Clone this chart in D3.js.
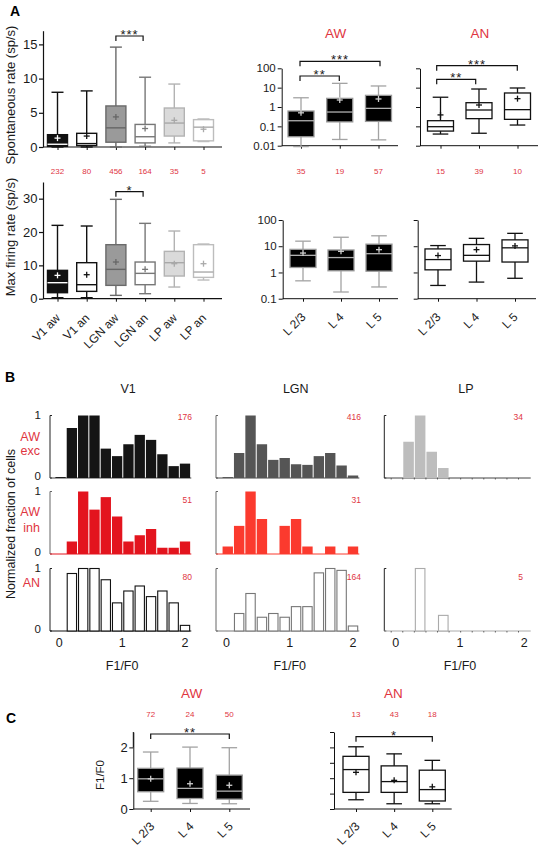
<!DOCTYPE html>
<html><head><meta charset="utf-8">
<script src="https://cdn.jsdelivr.net/npm/d3@7"></script>
<style>body{margin:0;background:#fff}svg{display:block}</style>
</head><body><svg id="c" width="538" height="852"></svg>
<script>
// ================= DATA =================
const regionCats = ["V1 aw","V1 an","LGN aw","LGN an","LP aw","LP an"];
const regionN = [232,80,456,164,35,5];
// box stats: [whiskerLow, q1, median, q3, whiskerHigh, mean]
const spontStats = [
  [0,0.1,0.4,1.8,8.0,1.3],
  [0,0.2,0.5,2.0,8.2,1.6],
  [0,0.7,2.8,6.0,14.6,4.4],
  [0.1,0.6,1.5,3.3,10.2,2.7],
  [0.6,1.6,3.5,5.7,9.2,3.9],
  [0.8,0.9,2.9,4.0,4.1,2.6]];
const maxRateStats = [
  [0.3,1.8,4.8,8.5,22,7.0],
  [0.3,2.2,4.2,10.8,21.8,7.2],
  [1.0,4.0,8.8,16.2,29.8,11.0],
  [1.5,4.2,7.6,11.0,22.6,8.8],
  [3.5,6.8,10.8,14.2,20.3,10.5],
  [5.6,6.4,8.0,16.2,16.4,10.5]];
const spontTicks = [0,5,10,15];
const maxTicks = [0,10,20,30];

const layerCats = ["L 2/3","L 4","L 5"];
const awLayerN = [35,19,57];
const anLayerN = [15,39,10];
const awSpontLayer = [[0.009,0.029,0.195,0.62,3.0,0.5],[0.021,0.17,0.55,2.8,16.7,2.3],[0.02,0.18,0.85,4.0,12.2,2.6]];
const anSpontLayer = [[0.04,0.057,0.096,0.196,3.2,0.39],[0.044,0.25,0.70,1.67,8.5,1.27],[0.117,0.23,0.73,5.3,9.6,2.7]];
const awMaxLayer = [[0.48,1.55,4.5,7.6,15.6,5.5],[0.18,1.16,3.7,7.2,22,6.4],[0.28,1.12,5.2,12,25,7.4]];
const anMaxLayer = [[0.32,1.26,3.1,7.9,10.6,4.4],[0.43,2.7,4.5,11.6,20,7.4],[0.6,2.5,8.7,17.5,31,10.3]];
const logTicksTop = [0.01,0.1,1,10,100];
const logTicksBottom = [0.1,1,10,100];

// Histograms of F1/F0 (normalized fraction of cells)
const binStarts = [-0.07,0.11,0.29,0.47,0.65,0.83,1.01,1.19,1.37,1.55,1.73,1.91];
const binWidth = 0.18;
const histColumns = ["V1","LGN","LP"];
const v1Exc  = [0.015,0.80,1.0,1.0,0.47,0.35,0.54,0.69,0.61,0.38,0.19,0.23];
const v1Inh  = [0,0.2,1.0,0.71,0.91,0.6,0.2,0.3,0.4,0.1,0.1,0.2];
const v1An   = [0,0.92,1.0,1.0,0.82,0.45,0.64,0.72,0.55,0.64,0.45,0.09];
const lgnExc = [0.015,0.4,1.0,0.54,0.29,0.32,0.22,0.21,0.35,0.4,0.2,0.04];
const lgnInh = [0.12,0.45,1.0,0.56,0,0.45,0.56,0.12,0,0.12,0,0.12];
const lgnAn  = [0,0.28,0.6,0.22,0.28,0.22,0.39,0.39,0.93,1.0,0.97,0.08];
const lpExc  = [0,0.58,1.0,0.42,0.16,0,0,0,0,0,0,0];
const lpAn   = [0,0,1.0,0,0.25,0,0,0,0,0,0,0];
const histN = { V1: [176,51,80], LGN: [416,31,164], LP: [34,null,5] };
const histTicks = [0,1,2];
const histYTicks = [0,1];

// F1/F0 by layer
const awF1Layer = [[0.25,0.56,0.98,1.32,1.85,0.98],[0.18,0.34,0.67,1.33,2.01,0.82],[0.17,0.32,0.58,1.10,1.99,0.77]];
const anF1Layer = [[0.30,0.54,1.28,1.71,2.02,1.19],[0.17,0.54,0.89,1.40,1.79,0.93],[0.17,0.26,0.63,1.26,1.58,0.72]];
const awF1N = [72,24,50];
const anF1N = [13,43,18];
const f1Ticks = [0,1,2];
const f1MinorTicks = [0,0.5,1,1.5,2,2.5];

// ================= DRAWING =================
const FONT = '"Liberation Sans", Arial, Helvetica, sans-serif';
const RED = "#e0353f";
const svg = d3.select("#c").attr("font-family", FONT);

function txt(x, y, s, o = {}) {
  const t = svg.append("text").attr("x", x).attr("y", y).text(s)
    .attr("font-size", o.fs || 11).attr("fill", o.fill || "#1a1a1a")
    .attr("text-anchor", o.anchor || "middle");
  if (o.weight) t.attr("font-weight", o.weight);
  if (o.rot) t.attr("transform", `rotate(${o.rot},${x},${y})`);
  if (o.ls) t.attr("letter-spacing", o.ls);
  return t;
}
function line(x1, y1, x2, y2, c = "#111", w = 1.2) {
  svg.append("line").attr("x1", x1).attr("y1", y1).attr("x2", x2).attr("y2", y2)
    .attr("stroke", c).attr("stroke-width", w);
}
function yAxis(x, scale, ticks, fmt, opts = {}) {
  const g = svg.append("g").attr("transform", `translate(${x},0)`)
    .call(d3.axisLeft(scale).tickValues(ticks).tickSize(opts.ts || 4).tickSizeOuter(0)
      .tickPadding(opts.pad !== undefined ? opts.pad : 2).tickFormat(fmt || (() => "")));
  g.selectAll("path,line").attr("stroke", "#111").attr("stroke-width", opts.sw || 1.2);
  g.selectAll("text").attr("font-size", opts.fs || 13).attr("fill", "#1a1a1a").attr("font-family", FONT);
  return g;
}
function xAxis(y, scale, x1, x2, labels, opts = {}) {
  line(x1, y, x2, y, "#111", opts.sw || 1.2);
  const g = svg.append("g").attr("transform", `translate(0,${y})`)
    .call(d3.axisBottom(scale).tickSize(3).tickSizeOuter(0));
  g.select(".domain").remove();
  g.selectAll("line").attr("stroke", "#111").attr("stroke-width", 1);
  if (labels) {
    g.selectAll("text").attr("font-size", opts.fs || 12).attr("fill", "#1a1a1a").attr("font-family", FONT)
      .attr("text-anchor", "end").attr("x", 0).attr("y", 0).attr("dy", 0)
      .attr("transform", `translate(${opts.dx || 3},${opts.dy || 20}) rotate(-45)`);
  } else g.selectAll("text").remove();
}
function boxes(xs, ys, cats, stats, w, styles, sw = 1.4) {
  cats.forEach((c, i) => {
    const s = stats[i], st = styles[i], cx = xs(c);
    line(cx, ys(s[0]), cx, ys(s[4]), st.wh, sw);
    line(cx - w * 0.3, ys(s[0]), cx + w * 0.3, ys(s[0]), st.wh, sw);
    line(cx - w * 0.3, ys(s[4]), cx + w * 0.3, ys(s[4]), st.wh, sw);
    svg.append("rect").attr("x", cx - w / 2).attr("y", ys(s[3])).attr("width", w)
      .attr("height", ys(s[1]) - ys(s[3])).attr("fill", st.fill).attr("stroke", st.stroke).attr("stroke-width", sw);
    line(cx - w / 2, ys(s[2]), cx + w / 2, ys(s[2]), st.med, sw);
    const my = ys(s[5]);
    line(cx - 3, my, cx + 3, my, st.mean, 1.3);
    line(cx, my - 3, cx, my + 3, st.mean, 1.3);
  });
}
function bracket(x1, x2, y, label, legs = 5) {
  svg.append("path").attr("d", `M${x1},${y + legs}V${y}H${x2}V${y + legs}`)
    .attr("fill", "none").attr("stroke", "#111").attr("stroke-width", 1.2);
  txt((x1 + x2) / 2, y + 3, label, { fs: 13, ls: 1 });
}
function nLabels(xs, cats, ns, y) {
  cats.forEach((c, i) => txt(xs(c), y, ns[i], { fs: 8, fill: RED }));
}

// ---------- Panel A, left ----------
txt(10, 15.5, "A", { fs: 14, weight: "bold", anchor: "start", fill: "#000" });
const regionStyles = [
  { fill: "#111", stroke: "#111", wh: "#111", med: "#fff", mean: "#fff" },
  { fill: "#fff", stroke: "#111", wh: "#111", med: "#111", mean: "#111" },
  { fill: "#9a9a9a", stroke: "#6a6a6a", wh: "#6a6a6a", med: "#666", mean: "#666" },
  { fill: "#fff", stroke: "#777", wh: "#777", med: "#777", mean: "#777" },
  { fill: "#dadada", stroke: "#b3b3b3", wh: "#b3b3b3", med: "#a8a8a8", mean: "#a8a8a8" },
  { fill: "#fff", stroke: "#bdbdbd", wh: "#bdbdbd", med: "#aaa", mean: "#aaa" }];
const xA = d3.scalePoint().domain(regionCats).range([57.5, 203.5]);
const ySp = d3.scaleLinear().domain([0, 17]).range([147, 30.7]);
const yMx = d3.scaleLinear().domain([0, 35]).range([298.7, 182]);

yAxis(43, ySp, spontTicks, d3.format("d"), { pad: 1.5 });
xAxis(147, xA, 43, 222, false);
boxes(xA, ySp, regionCats, spontStats, 20, regionStyles);
bracket(xA("LGN aw"), xA("LGN an") - 2, 36, "***");
txt(15, 95, "Spontaneous rate (sp/s)", { fs: 13, rot: -90 });
nLabels(xA, regionCats, regionN, 174);

yAxis(43, yMx, maxTicks, d3.format("d"), { pad: 1.5 });
xAxis(298.7, xA, 43, 222, true, { dx: 3, dy: 20 });
boxes(xA, yMx, regionCats, maxRateStats, 20, regionStyles);
bracket(xA("LGN aw"), xA("LGN an") - 2, 191.7, "*");
txt(15, 237, "Max firing rate (sp/s)", { fs: 13, rot: -90 });

// ---------- Panel A, right ----------
const awStyle = { fill: "#000", stroke: "#999", wh: "#a3a3a3", med: "#b0b0b0", mean: "#cfcfcf" };
const anStyle = { fill: "#fff", stroke: "#111", wh: "#111", med: "#111", mean: "#111" };
const aw3 = layerCats.map(() => awStyle), an3 = layerCats.map(() => anStyle);
const logFmt = d3.format("~g");

txt(335.7, 38, "AW", { fs: 13.5, fill: RED });
txt(480, 38, "AN", { fs: 13.5, fill: RED });

const yLT = d3.scaleLog().domain([0.01, 100]).range([145.7, 68.3]);
const xAWt = d3.scalePoint().domain(layerCats).range([301, 378.5]);
const xANt = d3.scalePoint().domain(layerCats).range([440.5, 517.5]);
yAxis(281.7, yLT, logTicksTop, logFmt, { fs: 11.5, sw: 1 });
xAxis(145.7, xAWt, 281.7, 398, false, { sw: 1 });
boxes(xAWt, yLT, layerCats, awSpontLayer, 26, aw3, 1.3);
bracket(300, 380, 61.3, "***");
bracket(300, 339.3, 76, "**");
nLabels(xAWt, layerCats, awLayerN, 174);

yAxis(420, yLT, logTicksTop, null, { sw: 1 });
xAxis(145.7, xANt, 420, 538, false, { sw: 1 });
boxes(xANt, yLT, layerCats, anSpontLayer, 26, an3, 1.3);
bracket(436.7, 517.3, 65.7, "***");
bracket(436.7, 475.7, 79.3, "**");
nLabels(xANt, layerCats, anLayerN, 174);

const yLB = d3.scaleLog().domain([0.1, 100]).range([298.7, 220]);
const xAWb = d3.scalePoint().domain(layerCats).range([303, 379]);
const xANb = d3.scalePoint().domain(layerCats).range([438, 515]);
yAxis(282.7, yLB, logTicksBottom, logFmt, { fs: 11.5, sw: 1 });
xAxis(298.7, xAWb, 282.7, 398, true, { sw: 1, dx: 3, dy: 19 });
boxes(xAWb, yLB, layerCats, awMaxLayer, 26, aw3, 1.3);
yAxis(417.7, yLB, logTicksBottom, null, { sw: 1 });
xAxis(298.7, xANb, 417.7, 536, true, { sw: 1, dx: 3, dy: 19 });
boxes(xANb, yLB, layerCats, anMaxLayer, 26, an3, 1.3);

// ---------- Panel B ----------
txt(5, 381.7, "B", { fs: 14, weight: "bold", anchor: "start", fill: "#000" });
txt(15, 524, "Normalized fraction of cells", { fs: 12.5, rot: -90 });
const histRows = [{ top: 415.5, base: 478 }, { top: 491.5, base: 554 }, { top: 568.5, base: 631 }];
const histCols = [
  { name: "V1", axisX: 50, x0: 59.3, x2: 185, nx: 192, data: [v1Exc, v1Inh, v1An],
    styles: [{ fill: "#151515" }, { fill: "#e3141e" }, { fill: "#fff", stroke: "#111" }] },
  { name: "LGN", axisX: 216, x0: 226.5, x2: 353, nx: 361, data: [lgnExc, lgnInh, lgnAn],
    styles: [{ fill: "#555" }, { fill: "#fb3a2e" }, { fill: "#fff", stroke: "#777" }] },
  { name: "LP", axisX: 384.3, x0: 395.7, x2: 524.3, nx: 523, data: [lpExc, null, lpAn],
    styles: [{ fill: "#bdbdbd" }, null, { fill: "#fff", stroke: "#aaa" }] }];

histCols.forEach((col, ci) => {
  const xs = d3.scaleLinear().domain([0, 2]).range([col.x0, col.x2]);
  txt(xs(1) + 6, 393, col.name, { fs: 12.5 });
  histRows.forEach((row, ri) => {
    const vals = col.data[ri];
    if (!vals) return;
    const st = col.styles[ri];
    const ys = d3.scaleLinear().domain([0, 1]).range([row.base, row.top]);
    const axC = ri === 1 ? "#666" : (ci === 1 ? "#666" : "#222");
    line(col.axisX, ys(0), col.axisX, ys(1), axC, 1);
    histYTicks.forEach(t => line(col.axisX, ys(t), col.axisX + 2, ys(t), axC, 1));
    if (ci === 0) histYTicks.forEach(t =>
      txt(41, ys(t) + (t === 1 ? -0.5 : -2), t, { fs: 11.5, anchor: "end" }).attr("dy", "0.35em"));
    const baseC = st.stroke ? st.stroke : (ri === 1 ? st.fill : "#444");
    line(col.axisX, ys(0), xs(2.1), ys(0), baseC, 1);
    if (ci === 2) binStarts.forEach(b => line(xs(b), ys(0), xs(b), ys(0) + 1.5, "#444", 0.8));
    vals.forEach((v, i) => {
      if (v <= 0) return;
      const xa = xs(binStarts[i]), xb = xs(binStarts[i] + binWidth);
      const r = svg.append("rect").attr("y", ys(v)).attr("height", ys(0) - ys(v));
      if (st.stroke) r.attr("x", xa + 1).attr("width", xb - xa - 2).attr("fill", "#fff")
        .attr("stroke", st.stroke).attr("stroke-width", 1.1);
      else r.attr("x", xa + 0.5).attr("width", xb - xa - 1).attr("fill", st.fill);
    });
    const nn = histN[col.name][ri];
    if (nn !== null) txt(col.nx, [420, 503, 580][ri], nn, { fs: 8.5, fill: RED, anchor: "end" });
    if (ri === 2) histTicks.forEach(t => txt(xs(t), 647, t, { fs: 12.5 }));
  });
  txt(xs(1), 670, "F1/F0", { fs: 12.5 });
});
txt(40, 441, "AW", { fs: 12.5, fill: RED, anchor: "end" });
txt(40, 455, "exc", { fs: 12.5, fill: RED, anchor: "end" });
txt(40, 516, "AW", { fs: 12.5, fill: RED, anchor: "end" });
txt(40, 531.5, "inh", { fs: 12.5, fill: RED, anchor: "end" });
txt(40, 587, "AN", { fs: 12.5, fill: RED, anchor: "end" });

// ---------- Panel C ----------
txt(6, 723, "C", { fs: 14, weight: "bold", anchor: "start", fill: "#000" });
const yC = d3.scaleLinear().domain([0, 2.5]).range([809, 732]);
const xCl = d3.scalePoint().domain(layerCats).range([150.7, 229.3]);
const xCr = d3.scalePoint().domain(layerCats).range([356, 432.3]);
txt(191.7, 698, "AW", { fs: 13.5, fill: RED });
txt(393.3, 698, "AN", { fs: 13.5, fill: RED });
nLabels(xCl, layerCats, awF1N, 717);
nLabels(xCr, layerCats, anF1N, 717);

yAxis(133.3, yC, f1Ticks, d3.format("d"), { sw: 1, pad: 1.5 });
line(133.3, yC(2), 133.3, yC(2.5), "#111", 1);
xAxis(809, xCl, 133.3, 250, true, { sw: 1, dx: 4, dy: 18 });
boxes(xCl, yC, layerCats, awF1Layer, 26, aw3, 1.3);
bracket(xCl("L 2/3"), xCl("L 5"), 734, "**");
txt(104, 775, "F1/F0", { fs: 11.5, rot: -90 });

yAxis(334, yC, f1MinorTicks, null, { sw: 1 });
xAxis(809, xCr, 334, 451.7, true, { sw: 1, dx: 4, dy: 18 });
boxes(xCr, yC, layerCats, anF1Layer, 26, an3, 1.3);
bracket(xCr("L 2/3"), xCr("L 5"), 736.7, "*");
</script></body></html>
